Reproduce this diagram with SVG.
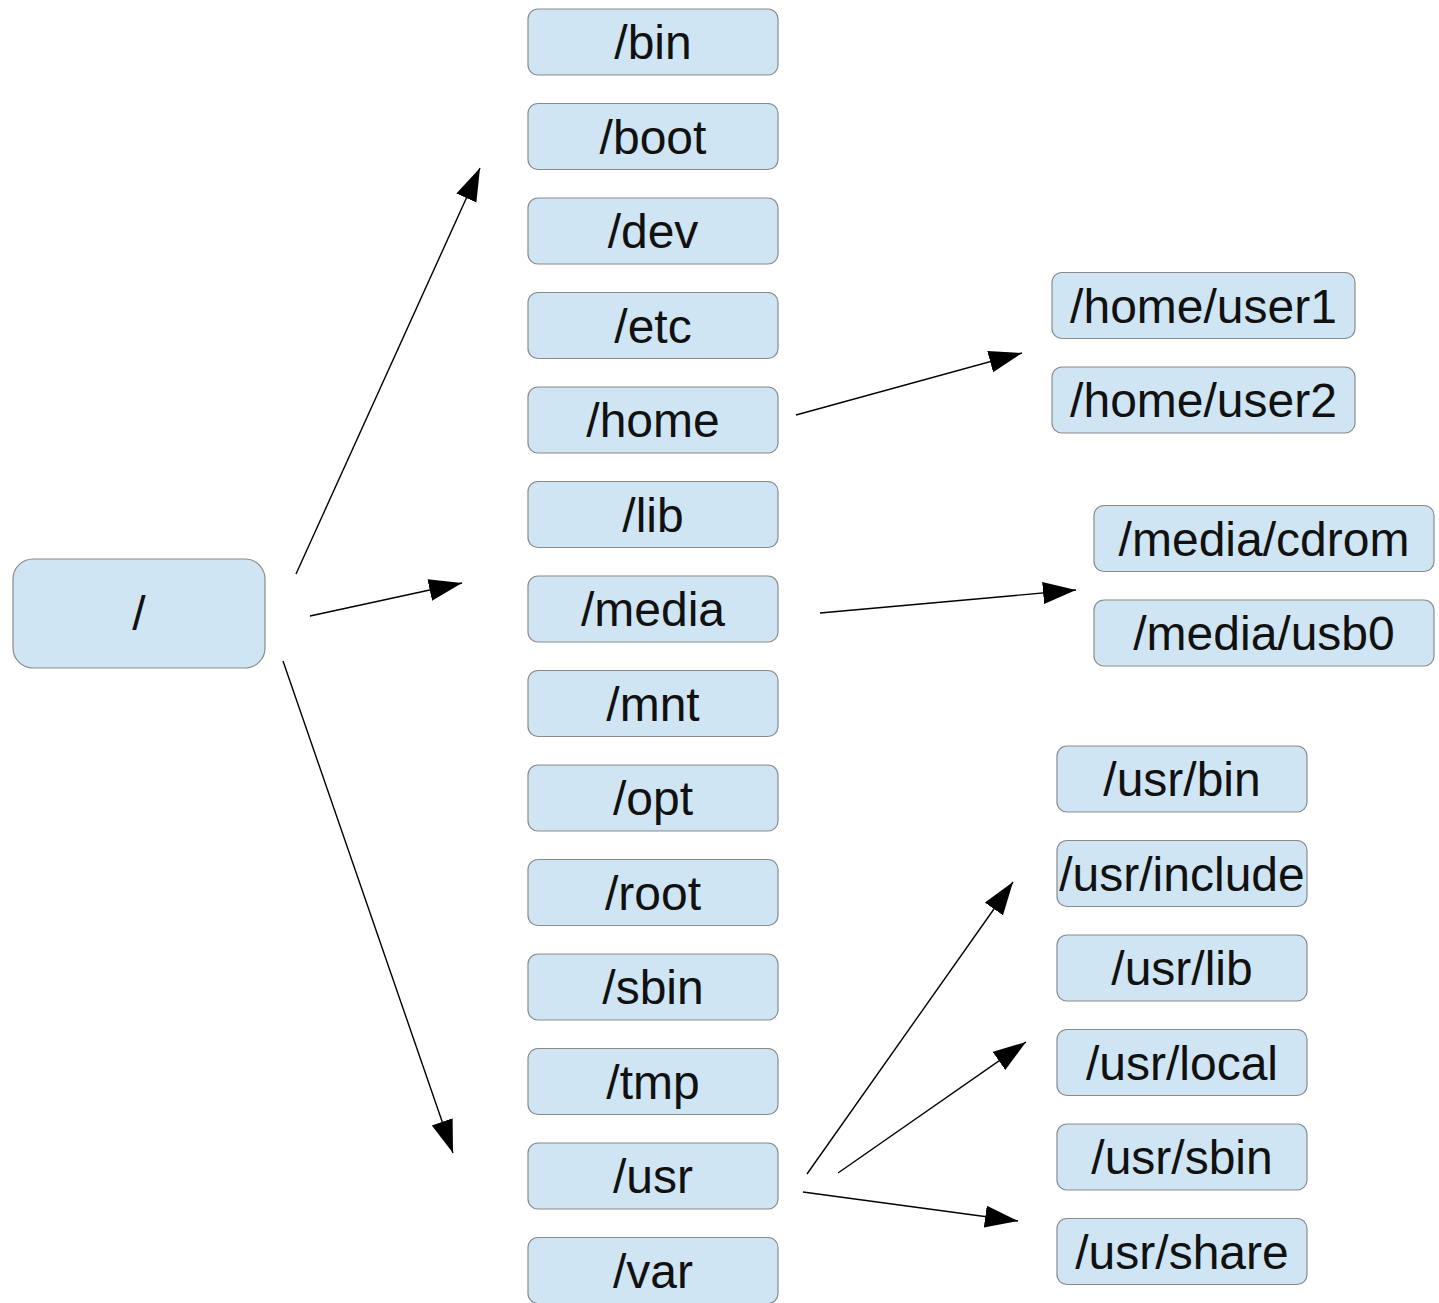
<svg xmlns="http://www.w3.org/2000/svg" width="1439" height="1303" viewBox="0 0 1439 1303">
<style>
.n rect{fill:#cfe5f3;stroke:#8a8a8a;stroke-width:1.2}
.n text{font-family:"Liberation Sans",Arial,sans-serif;font-size:48px;fill:#111;text-anchor:middle}
.c line{stroke:#000;stroke-width:1.4;marker-end:url(#ah)}
</style>
<defs>
<marker id="ah" markerUnits="userSpaceOnUse" markerWidth="34" markerHeight="24" refX="33" refY="11" orient="auto" viewBox="0 0 34 24">
<path d="M0,0 L33,11 L0,22 z" fill="#000"/>
</marker>
</defs>
<rect width="1439" height="1303" fill="#fff"/>
<g id="root" class="n"><rect x="13" y="559" width="252" height="109" rx="20"/><text x="139" y="630">/</text></g>
<g id="bin" class="n"><rect x="528" y="9" width="250" height="66" rx="10"/><text x="653" y="59">/bin</text></g>
<g id="boot" class="n"><rect x="528" y="103.5" width="250" height="66" rx="10"/><text x="653" y="153.5">/boot</text></g>
<g id="dev" class="n"><rect x="528" y="198" width="250" height="66" rx="10"/><text x="653" y="248">/dev</text></g>
<g id="etc" class="n"><rect x="528" y="292.5" width="250" height="66" rx="10"/><text x="653" y="342.5">/etc</text></g>
<g id="home" class="n"><rect x="528" y="387" width="250" height="66" rx="10"/><text x="653" y="437">/home</text></g>
<g id="lib" class="n"><rect x="528" y="481.5" width="250" height="66" rx="10"/><text x="653" y="531.5">/lib</text></g>
<g id="media" class="n"><rect x="528" y="576" width="250" height="66" rx="10"/><text x="653" y="626">/media</text></g>
<g id="mnt" class="n"><rect x="528" y="670.5" width="250" height="66" rx="10"/><text x="653" y="720.5">/mnt</text></g>
<g id="opt" class="n"><rect x="528" y="765" width="250" height="66" rx="10"/><text x="653" y="815">/opt</text></g>
<g id="rootdir" class="n"><rect x="528" y="859.5" width="250" height="66" rx="10"/><text x="653" y="909.5">/root</text></g>
<g id="sbin" class="n"><rect x="528" y="954" width="250" height="66" rx="10"/><text x="653" y="1004">/sbin</text></g>
<g id="tmp" class="n"><rect x="528" y="1048.5" width="250" height="66" rx="10"/><text x="653" y="1098.5">/tmp</text></g>
<g id="usr" class="n"><rect x="528" y="1143" width="250" height="66" rx="10"/><text x="653" y="1193">/usr</text></g>
<g id="var" class="n"><rect x="528" y="1237.5" width="250" height="66" rx="10"/><text x="653" y="1287.5">/var</text></g>
<g id="user1" class="n"><rect x="1052" y="272.5" width="303" height="66" rx="10"/><text x="1203.5" y="322.5">/home/user1</text></g>
<g id="user2" class="n"><rect x="1052" y="367" width="303" height="66" rx="10"/><text x="1203.5" y="417">/home/user2</text></g>
<g id="cdrom" class="n"><rect x="1094" y="505.5" width="340" height="66" rx="10"/><text x="1264" y="555.5">/media/cdrom</text></g>
<g id="usb0" class="n"><rect x="1094" y="600" width="340" height="66" rx="10"/><text x="1264" y="650">/media/usb0</text></g>
<g id="usrbin" class="n"><rect x="1057" y="746" width="250" height="66" rx="10"/><text x="1182" y="796">/usr/bin</text></g>
<g id="usrinclude" class="n"><rect x="1057" y="840.5" width="250" height="66" rx="10"/><text x="1182" y="890.5">/usr/include</text></g>
<g id="usrlib" class="n"><rect x="1057" y="935" width="250" height="66" rx="10"/><text x="1182" y="985">/usr/lib</text></g>
<g id="usrlocal" class="n"><rect x="1057" y="1029.5" width="250" height="66" rx="10"/><text x="1182" y="1079.5">/usr/local</text></g>
<g id="usrsbin" class="n"><rect x="1057" y="1124" width="250" height="66" rx="10"/><text x="1182" y="1174">/usr/sbin</text></g>
<g id="usrshare" class="n"><rect x="1057" y="1218.5" width="250" height="66" rx="10"/><text x="1182" y="1268.5">/usr/share</text></g>
<g id="connectors" class="c">
<line x1="296" y1="574" x2="480" y2="168"/>
<line x1="310" y1="616" x2="462" y2="583"/>
<line x1="283" y1="661" x2="453" y2="1153"/>
<line x1="796" y1="415" x2="1022" y2="353"/>
<line x1="820" y1="613" x2="1076" y2="590"/>
<line x1="807" y1="1174" x2="1013" y2="882"/>
<line x1="838" y1="1173" x2="1026" y2="1042"/>
<line x1="803" y1="1192" x2="1018" y2="1221"/>
</g>
</svg>
